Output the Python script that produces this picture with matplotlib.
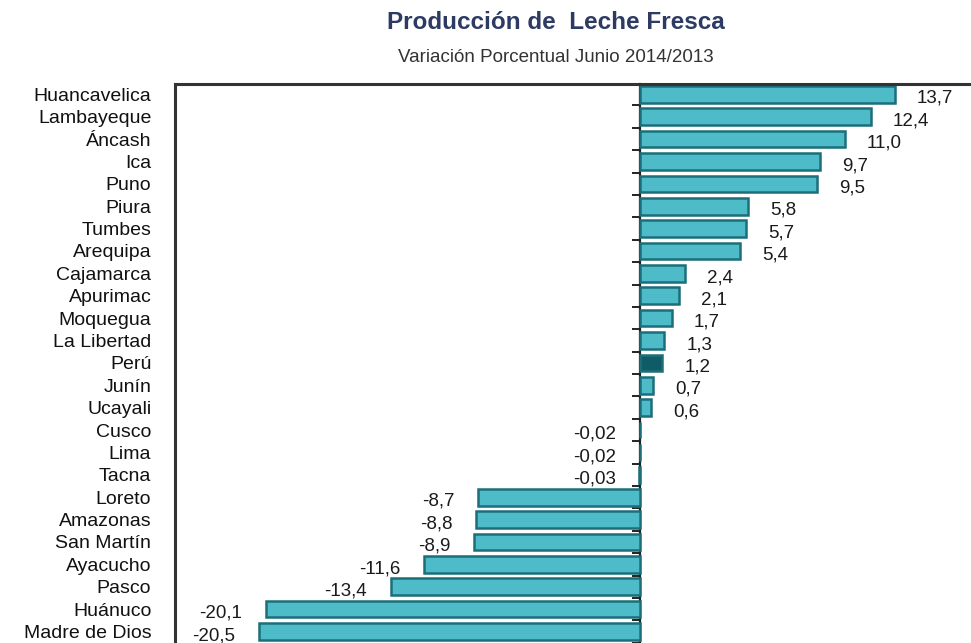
import matplotlib
matplotlib.use("Agg")
import matplotlib.pyplot as plt

plt.rcParams["font.family"] = ["Liberation Sans", "DejaVu Sans"]

regions = ["Huancavelica", "Lambayeque", "Áncash", "Ica", "Puno", "Piura",
           "Tumbes", "Arequipa", "Cajamarca", "Apurimac", "Moquegua",
           "La Libertad", "Perú", "Junín", "Ucayali", "Cusco", "Lima",
           "Tacna", "Loreto", "Amazonas", "San Martín", "Ayacucho", "Pasco",
           "Huánuco", "Madre de Dios"]
values = [13.7, 12.4, 11.0, 9.7, 9.5, 5.8, 5.7, 5.4, 2.4, 2.1, 1.7, 1.3,
          1.2, 0.7, 0.6, -0.02, -0.02, -0.03, -8.7, -8.8, -8.9, -11.6,
          -13.4, -20.1, -20.5]
value_labels = ["13,7", "12,4", "11,0", "9,7", "9,5", "5,8", "5,7", "5,4",
                "2,4", "2,1", "1,7", "1,3", "1,2", "0,7", "0,6", "-0,02",
                "-0,02", "-0,03", "-8,7", "-8,8", "-8,9", "-11,6", "-13,4",
                "-20,1", "-20,5"]
highlight = "Perú"

C_BAR = "#4dbcc8"
C_EDGE = "#1c6f7a"
C_PERU = "#0f5c66"

fig = plt.figure(figsize=(9.71, 6.43), dpi=100)
ax = fig.add_axes([0.1802, -0.01, 0.829, 0.879])

ys = list(range(len(regions)))
colors = [C_PERU if r == highlight else C_BAR for r in regions]
ax.barh(ys, values, height=0.74, color=colors, edgecolor=C_EDGE, linewidth=1.8)

for y, v, lab in zip(ys, values, value_labels):
    if v >= 0:
        ax.annotate(lab, (v, y), xytext=(16, -3), textcoords="offset points",
                    ha="left", va="center", fontsize=13.5, color="#1a1a1a")
    else:
        ax.annotate(lab, (v, y), xytext=(-17, -3), textcoords="offset points",
                    ha="right", va="center", fontsize=13.5, color="#1a1a1a")

xmin, xmax = -25.0, 18.28
ax.set_xlim(xmin, xmax)
ax.set_ylim(24.8, -0.45)
ax.set_xticks([])
ax.set_yticks(ys, regions)
ax.tick_params(axis="y", length=0, pad=17, labelsize=14, labelcolor="#111111")
for s in ax.spines.values():
    s.set_linewidth(2.2)
    s.set_color("#333333")

# zero line with row-boundary ticks pointing left
zero_pos = (0 - xmin) / (xmax - xmin)
sec = ax.secondary_yaxis(zero_pos)
sec.yaxis.set_ticks_position("left")
sec.set_yticks([i + 0.5 for i in range(-1, len(regions))])
sec.set_yticklabels([])
sec.tick_params(axis="y", which="both", direction="out", length=5.5,
                width=1.4, color="#222222", left=True, right=False)
for s in sec.spines.values():
    s.set_linewidth(1.6)
    s.set_color("#222222")

fig.text(0.572, 0.965, "Producción de  Leche Fresca", ha="center", va="center",
         fontsize=17.5, fontweight="bold", color="#2d3a63")
fig.text(0.572, 0.911, "Variación Porcentual Junio 2014/2013", ha="center",
         va="center", fontsize=13.5, color="#333333")

fig.savefig("out.png", dpi=100)
